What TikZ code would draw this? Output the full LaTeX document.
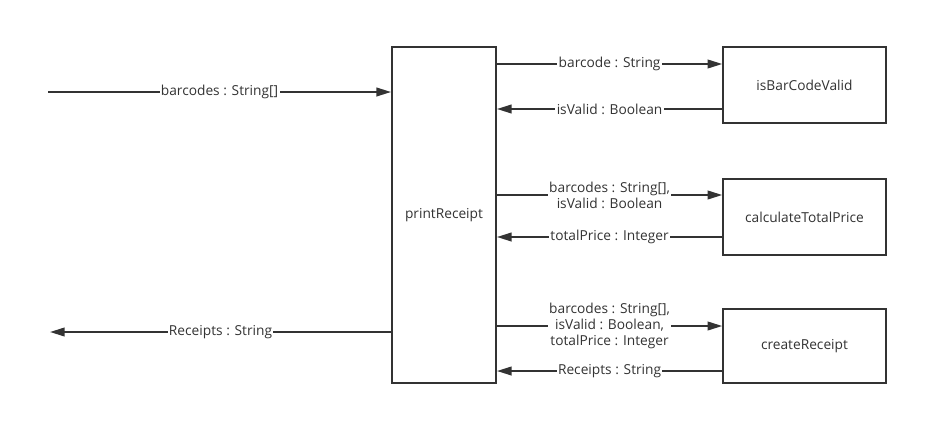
\documentclass[tikz,border=0pt]{standalone}
\usepackage{fontspec}
\setmainfont{Open Sans}
\usetikzlibrary{arrows.meta,positioning}
\definecolor{ink}{HTML}{333333}

\begin{document}
\begin{tikzpicture}[x=0.75pt,y=-0.75pt,line width=1.4pt,color=ink,
    >={Triangle[length=11pt,width=6.5pt]},
    box/.style={rectangle,draw=ink,fill=white,text=ink,inner sep=0pt,
      font=\fontsize{10.3}{12}\selectfont},
    lbl/.style={fill=white,text=ink,inner sep=1pt,align=center,
      font=\fontsize{10.3}{12}\selectfont}]
    \useasboundingbox (0,0) rectangle (948,446);

    \node[box,minimum width=78pt,minimum height=252pt] (P) at (444,215) {printReceipt};
    \node[box,minimum width=122pt,minimum height=57pt] (V) at (804.5,85) {isBarCodeValid};
    \node[box,minimum width=122pt,minimum height=57pt] (T) at (804.5,217) {calculateTotalPrice};
    \node[box,minimum width=122pt,minimum height=56pt] (R) at (804.5,346) {createReceipt};

    % free ends
    \coordinate (in) at (48,92);
    \coordinate (out) at (50,332);

    % input and output
    \draw[->] (in) -- node[lbl] {barcodes : String[]} (in -| P.west);
    \draw[->] (P.west |- out) -- node[lbl] {Receipts : String} (out);

    % isBarCodeValid
    \draw[->] (P.east |- 0,64) -- node[lbl] {barcode : String} (V.west |- 0,64);
    \draw[->] (V.west |- 0,109) -- node[lbl] {isValid : Boolean} (P.east |- 0,109);

    % calculateTotalPrice
    \draw[->] (P.east |- 0,195) -- node[lbl] {barcodes : String[],\\isValid : Boolean} (T.west |- 0,195);
    \draw[->] (T.west |- 0,237) -- node[lbl] {totalPrice : Integer} (P.east |- 0,237);

    % createReceipt
    \draw[->] (P.east |- 0,326) -- node[lbl] {barcodes : String[],\\isValid : Boolean,\\totalPrice : Integer} (R.west |- 0,326);
    \draw[->] (R.west |- 0,371) -- node[lbl] {Receipts : String} (P.east |- 0,371);
\end{tikzpicture}
\end{document}
